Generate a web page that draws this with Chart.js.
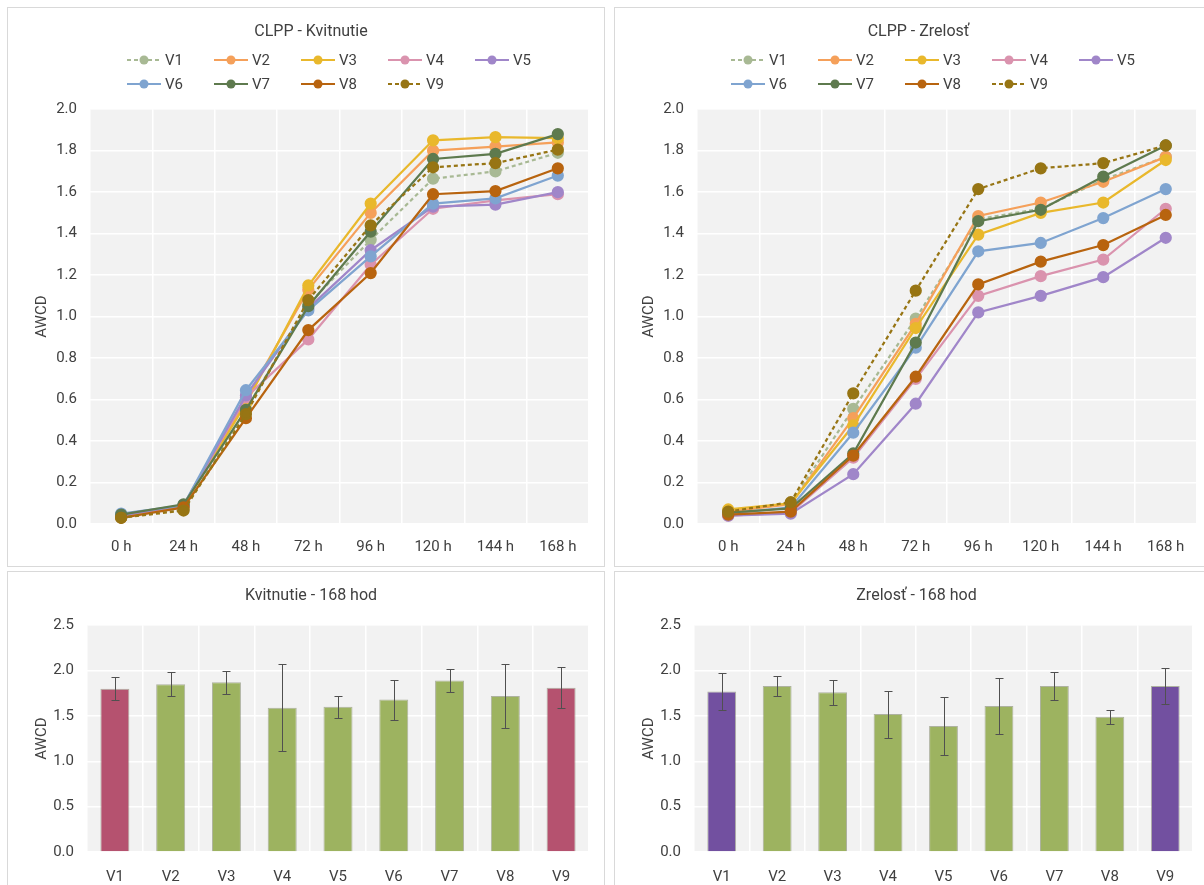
<!DOCTYPE html>
<html>
<head>
<meta charset="utf-8">
<title>CLPP AWCD</title>
<script src="https://cdn.jsdelivr.net/npm/chart.js@4.4.1/dist/chart.umd.min.js"></script>
<style>
  body { margin: 0; background: #fff; width: 1204px; height: 885px; overflow: hidden; position: relative; }
  .panel { position: absolute; border: 1px solid #D9D9D9; box-sizing: border-box; background: #fff; overflow: hidden; }
  .panel canvas { display: block; }
</style>
</head>
<body>
<div class="panel" style="left:7px;top:7px;width:598px;height:560px"><canvas id="kvitLine" width="596" height="558"></canvas></div>
<div class="panel" style="left:614px;top:7px;width:592px;height:560px"><canvas id="zrelLine" width="590" height="558"></canvas></div>
<div class="panel" style="left:7px;top:571px;width:598px;height:330px"><canvas id="kvitBar" width="596" height="328"></canvas></div>
<div class="panel" style="left:614px;top:571px;width:592px;height:330px"><canvas id="zrelBar" width="590" height="328"></canvas></div>

<script>
// ---- data ----
const hours = ["0 h", "24 h", "48 h", "72 h", "96 h", "120 h", "144 h", "168 h"];
const variants = ["V1", "V2", "V3", "V4", "V5", "V6", "V7", "V8", "V9"];

// AWCD over time, one row per variant V1..V9
const kvitLines = [
  [0.03, 0.07, 0.55, 1.06, 1.37, 1.665, 1.70, 1.79],
  [0.04, 0.09, 0.60, 1.13, 1.50, 1.80, 1.82, 1.84],
  [0.04, 0.09, 0.58, 1.15, 1.545, 1.85, 1.865, 1.86],
  [0.04, 0.09, 0.61, 0.89, 1.25, 1.52, 1.56, 1.59],
  [0.04, 0.09, 0.62, 1.04, 1.32, 1.53, 1.54, 1.60],
  [0.05, 0.09, 0.645, 1.03, 1.29, 1.545, 1.57, 1.68],
  [0.045, 0.095, 0.55, 1.05, 1.41, 1.76, 1.785, 1.88],
  [0.03, 0.08, 0.51, 0.935, 1.21, 1.59, 1.605, 1.715],
  [0.03, 0.065, 0.53, 1.08, 1.44, 1.72, 1.74, 1.805]
];
const zrelLines = [
  [0.065, 0.10, 0.555, 0.99, 1.47, 1.52, 1.66, 1.77],
  [0.06, 0.095, 0.51, 0.965, 1.485, 1.55, 1.65, 1.77],
  [0.07, 0.10, 0.475, 0.945, 1.395, 1.50, 1.55, 1.755],
  [0.04, 0.055, 0.32, 0.70, 1.10, 1.195, 1.275, 1.52],
  [0.04, 0.05, 0.24, 0.58, 1.02, 1.10, 1.19, 1.38],
  [0.05, 0.08, 0.44, 0.85, 1.315, 1.355, 1.475, 1.615],
  [0.055, 0.075, 0.34, 0.875, 1.46, 1.515, 1.675, 1.825],
  [0.045, 0.06, 0.33, 0.71, 1.155, 1.265, 1.345, 1.49],
  [0.06, 0.105, 0.63, 1.125, 1.615, 1.715, 1.74, 1.825]
];

// 168 h means and error bar half-lengths
const kvitMeans = [1.80, 1.85, 1.87, 1.59, 1.60, 1.68, 1.89, 1.72, 1.81];
const kvitErr = [0.13, 0.13, 0.13, 0.48, 0.12, 0.22, 0.13, 0.355, 0.225];
const zrelMeans = [1.77, 1.83, 1.76, 1.52, 1.39, 1.61, 1.83, 1.49, 1.83];
const zrelErr = [0.205, 0.11, 0.14, 0.26, 0.32, 0.31, 0.15, 0.08, 0.20];

// ---- styles ----
const FONT = "Roboto, 'Liberation Sans', sans-serif";
const TEXT = "#404040";
const lineColors = ["#A8B994", "#F5A05A", "#E9B82C", "#DA93AE", "#A086C9", "#7FA4D0", "#5E7A4E", "#B8640F", "#977514"];
const dashed = [true, false, false, false, false, false, false, false, true];
const green = "#9DB360";

Chart.defaults.font.family = FONT;
Chart.defaults.color = TEXT;

// grey plot background
const plotBg = {
  id: "plotBg",
  beforeDraw(chart) {
    const a = chart.chartArea;
    chart.ctx.save();
    chart.ctx.fillStyle = "#F2F2F2";
    chart.ctx.fillRect(a.left, a.top, a.right - a.left, a.bottom - a.top);
    chart.ctx.restore();
  }
};

// Excel-like legend: 5 columns, line + marker + label
const gridLegend = {
  id: "gridLegend",
  afterDraw(chart, args, opts) {
    if (!opts.show) return;
    const ctx = chart.ctx;
    ctx.save();
    chart.data.datasets.forEach((ds, i) => {
      const mx = chart.width / 2 + opts.startX + (i % 5) * opts.pitch;
      const my = opts.rowY[Math.floor(i / 5)];
      ctx.strokeStyle = ds.borderColor;
      ctx.lineWidth = 2;
      ctx.setLineDash(ds.borderDash || []);
      ctx.beginPath();
      ctx.moveTo(mx - 17, my);
      ctx.lineTo(mx + 17, my);
      ctx.stroke();
      ctx.setLineDash([]);
      ctx.fillStyle = ds.pointBackgroundColor;
      ctx.beginPath();
      ctx.arc(mx, my, 4.5, 0, Math.PI * 2);
      ctx.fill();
      ctx.fillStyle = TEXT;
      ctx.font = "15px " + FONT;
      ctx.textAlign = "left";
      ctx.textBaseline = "middle";
      ctx.fillText(ds.label, mx + 21, my + 1);
    });
    ctx.restore();
  }
};

// error bars drawn through the y scale
const errorBars = {
  id: "errorBars",
  afterDatasetsDraw(chart, args, opts) {
    if (!opts.errors) return;
    const ctx = chart.ctx;
    const y = chart.scales.y;
    const values = chart.data.datasets[0].data;
    ctx.save();
    ctx.strokeStyle = "#505050";
    ctx.lineWidth = 1;
    chart.getDatasetMeta(0).data.forEach((bar, i) => {
      const x = Math.round(bar.x) + 0.5;
      const top = Math.round(y.getPixelForValue(values[i] + opts.errors[i])) + 0.5;
      const bot = Math.round(y.getPixelForValue(values[i] - opts.errors[i])) + 0.5;
      ctx.beginPath();
      ctx.moveTo(x, top); ctx.lineTo(x, bot);
      ctx.moveTo(x - 4, top); ctx.lineTo(x + 4, top);
      ctx.moveTo(x - 4, bot); ctx.lineTo(x + 4, bot);
      ctx.stroke();
    });
    ctx.restore();
  }
};

function axisY(max, step, width) {
  return {
    min: 0, max: max,
    border: { display: false },
    grid: { color: "#FFFFFF", lineWidth: 1.5, drawTicks: false },
    ticks: { stepSize: step, padding: 13, font: { size: 15 }, callback: v => v.toFixed(1) },
    title: { display: true, text: "AWCD", font: { size: 15 }, padding: 0 },
    afterFit: s => { s.width = width; }
  };
}

function axisX(height, pad) {
  return {
    offset: true,
    border: { display: false },
    grid: { color: "#FFFFFF", lineWidth: 1.5, offset: true, drawTicks: false },
    ticks: { padding: pad, font: { size: 15 }, maxRotation: 0 },
    afterFit: s => { s.height = height; }
  };
}

// Line chart: AWCD over incubation time
function makeLineChart(id, title, rows, right) {
  const datasets = rows.map((row, i) => ({
    label: variants[i],
    data: row,
    borderColor: lineColors[i],
    backgroundColor: lineColors[i],
    pointBackgroundColor: lineColors[i],
    pointBorderColor: lineColors[i],
    pointRadius: 5,
    borderWidth: 2.25,
    borderDash: dashed[i] ? [4, 3] : [],
    order: 9 - i
  }));
  new Chart(document.getElementById(id), {
    type: "line",
    data: { labels: hours, datasets: datasets },
    options: {
      responsive: false,
      animation: false,
      layout: { padding: { left: 25, right: right, top: 0, bottom: 12 } },
      plugins: {
        legend: { display: false },
        tooltip: { enabled: false },
        title: { display: true, text: title, color: TEXT, font: { size: 16, weight: "normal" }, padding: { top: 14, bottom: 68 } },
        gridLegend: { show: true, startX: -162, pitch: 87, rowY: [52, 76] }
      },
      scales: { x: axisX(30, 14), y: axisY(2, 0.2, 57) }
    },
    plugins: [plotBg, gridLegend]
  });
}

// Bar chart: AWCD at 168 h with error bars
function makeBarChart(id, title, means, errs, accent, right) {
  const colors = variants.map((v, i) => (i === 0 || i === 8) ? accent : green);
  new Chart(document.getElementById(id), {
    type: "bar",
    data: {
      labels: variants,
      datasets: [{
        data: means,
        backgroundColor: colors,
        borderColor: "rgba(90,100,60,0.45)",
        borderWidth: 1,
        barPercentage: 0.52,
        categoryPercentage: 1
      }]
    },
    options: {
      responsive: false,
      animation: false,
      layout: { padding: { left: 25, right: right, top: 0, bottom: 8 } },
      plugins: {
        legend: { display: false },
        tooltip: { enabled: false },
        title: { display: true, text: title, color: TEXT, font: { size: 16, weight: "normal" }, padding: { top: 14, bottom: 20 } },
        errorBars: { errors: errs }
      },
      scales: { x: axisX(40, 16), y: axisY(2.5, 0.5, 54) }
    },
    plugins: [plotBg, errorBars]
  });
}

makeLineChart("kvitLine", "CLPP - Kvitnutie", kvitLines, 15);
makeLineChart("zrelLine", "CLPP - Zrelosť", zrelLines, 8);
makeBarChart("kvitBar", "Kvitnutie - 168 hod", kvitMeans, kvitErr, "#B5526F", 15);
makeBarChart("zrelBar", "Zrelosť - 168 hod", zrelMeans, zrelErr, "#7250A0", 12);
</script>
</body>
</html>
